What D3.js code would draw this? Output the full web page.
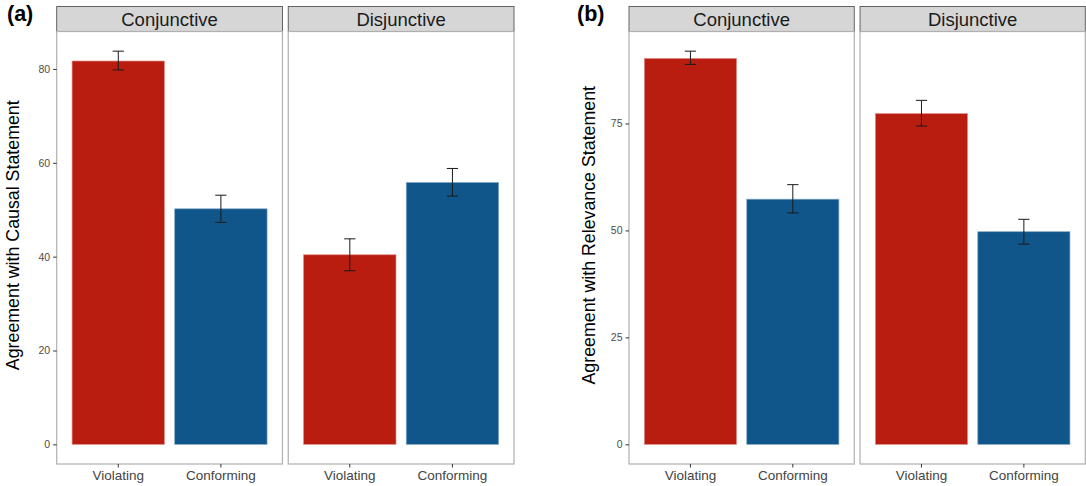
<!DOCTYPE html>
<html>
<head>
<meta charset="utf-8">
<script src="https://cdn.jsdelivr.net/npm/d3@7"></script>
<style>
	body { margin: 0; background: #fff; }
	svg { display: block; font-family: "Liberation Sans", Arial, sans-serif; }
</style>
</head>
<body>
<svg id="fig"></svg>
<script>

// ============================================================================== //
// DATA ========================================================================= //
// ============================================================================== //

var structures = ["Conjunctive", "Disjunctive"],
	conditions = ["Violating", "Conforming"];

// order: Conjunctive-Violating, Conjunctive-Conforming, Disjunctive-Violating, Disjunctive-Conforming
var causalMean = [81.7, 50.2, 40.4, 55.8],
	causalLow  = [79.8, 47.3, 37.0, 52.9],
	causalHigh = [83.8, 53.1, 43.8, 58.8];

var relevanceMean = [90.2, 57.3, 77.3, 49.7],
	relevanceLow  = [88.8, 54.1, 74.4, 46.8],
	relevanceHigh = [91.9, 60.7, 80.4, 52.6];

var causalTicks = [0, 20, 40, 60, 80],
	relevanceTicks = [0, 25, 50, 75];

var condCols = {
	"Violating": "#b91d10",
	"Conforming": "#10568a"
};
var condEdge = {
	"Violating": "#e08a85",
	"Conforming": "#7fa6c6"
};

// ============================================================================== //
// SETUP ======================================================================== //
// ============================================================================== //

var width = 1086,
	height = 486,
	stripTop = 6.5,
	stripH = 25,
	panelTop = stripTop + stripH,
	panelBottom = 464;

var svg = d3.select("#fig")
	.attr("width", width)
	.attr("height", height);

svg.append("rect")
	.attr("width", width)
	.attr("height", height)
	.attr("fill", "#fff");

function toRows(mean, low, high) {
	var rows = [];
	structures.forEach(function(s, i) {
		conditions.forEach(function(c, j) {
			var k = i * conditions.length + j;
			rows.push({structure: s, condition: c, mean: mean[k], low: low[k], high: high[k]});
		});
	});
	return rows;
}

// ============================================================================== //
// DRAW ========================================================================= //
// ============================================================================== //

function drawPanel(opt) {

	var rows = toRows(opt.mean, opt.low, opt.high);

	var g = svg.append("g").attr("class", "panel");

	var facetScale = d3.scaleBand()
		.domain(structures)
		.range([opt.left, opt.right])
		.paddingInner(0.025)
		.paddingOuter(0);

	var fw = facetScale.bandwidth();

	// ggplot style discrete axis: 0.6 unit expansion each side
	var xScale = d3.scaleBand()
		.domain(conditions)
		.range([0, fw])
		.paddingInner(0.1)
		.paddingOuter(0.15);

	// ggplot style continuous expansion: 5% of the data range
	var top = d3.max(rows, d => d.high),
		ext = top * 0.05;

	var yScale = d3.scaleLinear()
		.domain([-ext, top + ext])
		.range([panelBottom, panelTop]);

	var facets = g.selectAll("g.facet")
		.data(structures)
		.enter()
		.append("g")
		.attr("class", "facet")
		.attr("transform", d => `translate(${facetScale(d)},0)`);

	// strips
	facets.append("rect")
		.attr("x", 0)
		.attr("y", stripTop)
		.attr("width", fw)
		.attr("height", stripH)
		.attr("fill", "#d6d6d6")
		.attr("stroke", "#555")
		.attr("stroke-width", 0.9);

	facets.append("text")
		.attr("x", fw / 2)
		.attr("y", stripTop + 19.5)
		.attr("text-anchor", "middle")
		.attr("font-size", 18.5)
		.attr("fill", "#1a1a1a")
		.text(d => d);

	// panel background + border
	facets.append("rect")
		.attr("x", 0)
		.attr("y", panelTop)
		.attr("width", fw)
		.attr("height", panelBottom - panelTop)
		.attr("fill", "#fff")
		.attr("stroke", "#b0b0b0")
		.attr("stroke-width", 1.2);

	// bars
	facets.selectAll("rect.bar")
		.data(s => rows.filter(r => r.structure == s))
		.enter()
		.append("rect")
		.attr("class", "bar")
		.attr("x", d => xScale(d.condition))
		.attr("y", d => yScale(d.mean))
		.attr("width", xScale.bandwidth())
		.attr("height", d => yScale(0) - yScale(d.mean))
		.attr("fill", d => condCols[d.condition])
		.attr("stroke", d => condEdge[d.condition])
		.attr("stroke-width", 0.7);

	// error bars
	var capW = xScale.step() * 0.11;

	var errs = facets.selectAll("g.err")
		.data(s => rows.filter(r => r.structure == s))
		.enter()
		.append("g")
		.attr("class", "err")
		.attr("stroke", "#1a1a1a")
		.attr("stroke-width", 1)
		.attr("transform", d => `translate(${xScale(d.condition) + xScale.bandwidth() / 2},0)`);

	errs.append("line")
		.attr("x1", 0).attr("x2", 0)
		.attr("y1", d => yScale(d.low))
		.attr("y2", d => yScale(d.high));
	errs.append("line")
		.attr("x1", -capW / 2).attr("x2", capW / 2)
		.attr("y1", d => yScale(d.high))
		.attr("y2", d => yScale(d.high));
	errs.append("line")
		.attr("x1", -capW / 2).attr("x2", capW / 2)
		.attr("y1", d => yScale(d.low))
		.attr("y2", d => yScale(d.low));

	// x axis on every facet
	facets.each(function() {
		var xAxis = d3.axisBottom(xScale)
			.tickSize(3.5)
			.tickPadding(2.5);
		var ax = d3.select(this).append("g")
			.attr("class", "xAxis")
			.attr("transform", `translate(0,${panelBottom})`)
			.call(xAxis);
		ax.select(".domain").remove();
		ax.selectAll(".tick line").attr("stroke", "#333");
		ax.selectAll(".tick text")
			.attr("font-size", 13.5)
			.attr("font-family", "Liberation Sans, Arial, sans-serif")
			.attr("fill", "#444");
	});

	// y axis on the first facet only
	var yAxis = d3.axisLeft(yScale)
		.tickValues(opt.ticks)
		.tickSize(3.5)
		.tickPadding(3);

	var yAx = g.append("g")
		.attr("class", "yAxis")
		.attr("transform", `translate(${opt.left},0)`)
		.call(yAxis);
	yAx.select(".domain").remove();
	yAx.selectAll(".tick line").attr("stroke", "#333");
	yAx.selectAll(".tick text")
		.attr("font-size", 10.5)
		.attr("font-family", "Liberation Sans, Arial, sans-serif")
		.attr("fill", "#4d4d4d");

	// y title
	g.append("text")
		.attr("transform", `translate(${opt.titleX},${(stripTop + panelBottom) / 2}) rotate(-90)`)
		.attr("text-anchor", "middle")
		.attr("font-size", 17.8)
		.attr("fill", "#000")
		.text(opt.yTitle);

	// panel tag
	g.append("text")
		.attr("x", opt.tagX)
		.attr("y", 21)
		.attr("font-size", 21.5)
		.attr("font-weight", "bold")
		.attr("fill", "#000")
		.text(opt.tag);
}

drawPanel({
	mean: causalMean, low: causalLow, high: causalHigh,
	ticks: causalTicks,
	left: 56.7, right: 514,
	titleX: 19, tagX: 7,
	yTitle: "Agreement with Causal Statement",
	tag: "(a)"
});

drawPanel({
	mean: relevanceMean, low: relevanceLow, high: relevanceHigh,
	ticks: relevanceTicks,
	left: 629, right: 1085.3,
	titleX: 595, tagX: 577,
	yTitle: "Agreement with Relevance Statement",
	tag: "(b)"
});

</script>
</body>
</html>
